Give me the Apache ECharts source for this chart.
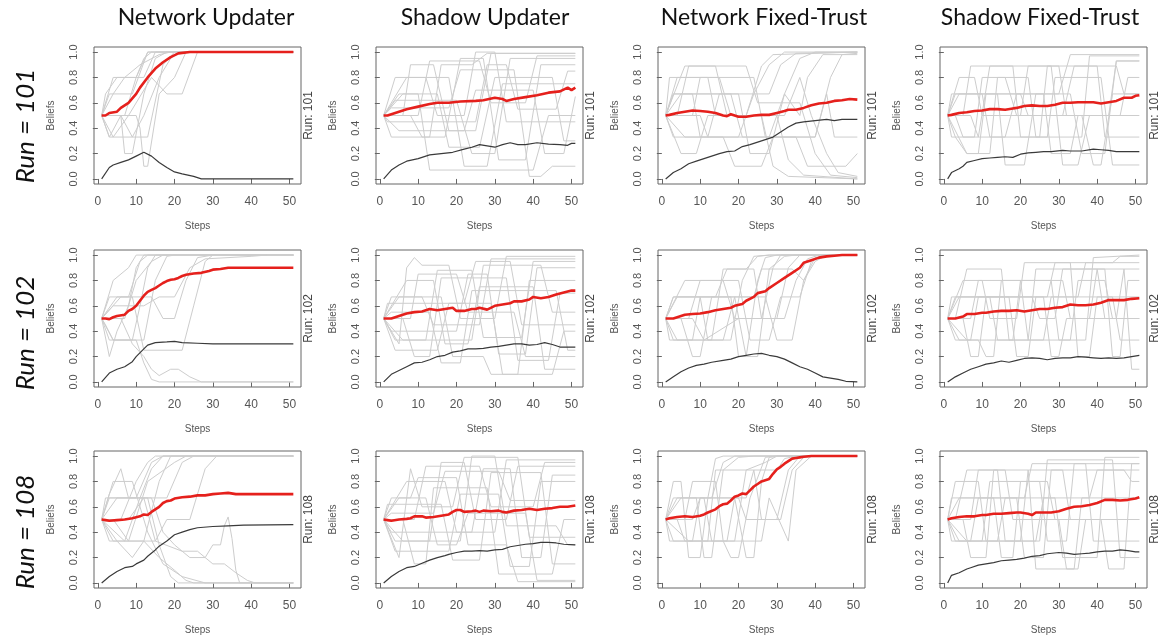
<!DOCTYPE html>
<html>
<head>
<meta charset="utf-8">
<script src="https://cdn.jsdelivr.net/npm/echarts@6/dist/echarts.min.js"></script>
<style>
html,body{margin:0;padding:0;background:#fff;}
#chart{width:1163px;height:636px;}
</style>
</head>
<body>
<div id="chart"></div>
<script>
// ---------- labels / ticks ----------
const columnTitles = ['Network Updater', 'Shadow Updater', 'Network Fixed-Trust', 'Shadow Fixed-Trust'];
const rowRuns = ['101', '102', '108'];
const xTicks = [0, 10, 20, 30, 40, 50];
const yTicks = [0, 0.2, 0.4, 0.6, 0.8, 1.0];

// ---------- Run 101 ----------
const nu101Mean = [[1,0.5],[2,0.5],[3,0.52],[5,0.53],[6,0.56],[8,0.6],[10,0.67],[11,0.72],[13,0.8],[15,0.87],[17,0.92],[19,0.96],[21,0.99],[24,1],[51,1]];
const nu101Sd = [[1,0],[3,0.09],[4,0.11],[6,0.13],[8,0.15],[10,0.18],[12,0.21],[14,0.18],[16,0.13],[18,0.09],[20,0.055],[22,0.04],[25,0.02],[27,0],[51,0]];
const nu101Agents = [
 [[1,0.5],[3,0.33],[13,0.33],[17,0.9],[20,1],[51,1]],
 [[1,0.5],[3,0.67],[9,0.67],[13,1],[51,1]],
 [[1,0.5],[4,0.8],[10,0.8],[13,1],[51,1]],
 [[1,0.5],[6,0.5],[7,0.2],[9,0.2],[12,0.67],[15,0.95],[18,1],[51,1]],
 [[1,0.5],[5,0.5],[10,0.5],[11,0.4],[12,0.1],[13,0.1],[16,0.67],[20,0.8],[23,1],[51,1]],
 [[1,0.5],[4,0.33],[8,0.5],[14,0.8],[18,0.67],[22,0.67],[26,1],[51,1]],
 [[1,0.5],[2,0.67],[5,0.8],[12,0.8],[15,1],[51,1]],
 [[1,0.5],[7,0.5],[10,0.8],[12,0.95],[14,1],[51,1]],
 [[1,0.5],[3,0.33],[6,0.5],[9,0.33],[12,0.5],[16,0.8],[19,0.95],[21,1],[51,1]],
 [[1,0.5],[4,0.67],[7,0.8],[11,0.9],[16,0.98],[19,1],[51,1]]
];
const su101Mean = [[1,0.5],[2,0.5],[4,0.52],[7,0.55],[10,0.57],[13,0.59],[15,0.6],[18,0.6],[21,0.61],[25,0.615],[27,0.62],[30,0.64],[32,0.63],[33,0.615],[35,0.63],[38,0.645],[41,0.66],[44,0.68],[47,0.69],[49,0.72],[50,0.7],[51,0.72]];
const su101Sd = [[1,0],[3,0.07],[5,0.11],[7,0.14],[10,0.16],[13,0.19],[16,0.2],[19,0.21],[22,0.235],[24,0.25],[26,0.27],[28,0.26],[30,0.25],[32,0.27],[34,0.285],[36,0.27],[38,0.27],[41,0.285],[44,0.275],[47,0.27],[49,0.265],[50,0.28],[51,0.28]];
const su101Agents = [
 [[1,0.5],[3,0.33],[13,0.33],[16,0.9],[24,0.9],[28,0.99],[51,0.99]],
 [[1,0.5],[4,0.62],[20,0.62],[24,0.2],[30,0.2],[34,0.95],[51,0.95]],
 [[1,0.5],[6,0.5],[8,0.9],[14,0.9],[18,0.38],[25,0.38],[29,0.99],[51,0.99]],
 [[1,0.5],[5,0.67],[10,0.67],[13,0.07],[40,0.07],[44,0.5],[51,0.5]],
 [[1,0.5],[4,0.8],[12,0.8],[15,0.5],[22,0.5],[25,1],[30,1],[33,0.45],[51,0.45]],
 [[1,0.5],[8,0.5],[11,0.33],[17,0.33],[21,0.95],[27,0.95],[31,0.15],[38,0.15],[42,0.9],[51,0.9]],
 [[1,0.5],[3,0.56],[18,0.56],[21,0.86],[35,0.86],[39,0.02],[42,0.02],[45,0.1],[51,0.1]],
 [[1,0.5],[6,0.67],[15,0.67],[18,0.25],[26,0.25],[30,0.8],[45,0.8],[48,0.3],[51,0.3]],
 [[1,0.5],[2,0.45],[25,0.45],[28,0.9],[33,0.9],[36,0.55],[46,0.55],[49,0.85],[51,0.85]],
 [[1,0.5],[10,0.5],[13,0.93],[26,0.93],[29,0.6],[38,0.6],[41,0.97],[51,0.97]],
 [[1,0.5],[5,0.38],[22,0.38],[25,0.7],[40,0.7],[43,0.2],[48,0.2],[51,0.65]],
 [[1,0.5],[7,0.8],[18,0.8],[22,0.1],[28,0.1],[32,0.75],[51,0.75]]
];
const nf101Mean = [[1,0.5],[2,0.505],[4,0.52],[6,0.53],[8,0.54],[10,0.535],[12,0.53],[14,0.52],[16,0.5],[17,0.495],[18,0.51],[20,0.49],[22,0.49],[24,0.5],[26,0.505],[28,0.505],[30,0.52],[32,0.535],[33,0.545],[35,0.545],[37,0.56],[39,0.58],[41,0.595],[43,0.6],[45,0.615],[47,0.62],[49,0.63],[51,0.625]];
const nf101Sd = [[1,0],[3,0.05],[5,0.08],[7,0.12],[9,0.14],[11,0.16],[13,0.18],[15,0.2],[17,0.215],[19,0.22],[21,0.255],[23,0.27],[25,0.29],[27,0.31],[29,0.33],[31,0.37],[33,0.41],[35,0.44],[37,0.45],[40,0.46],[43,0.47],[45,0.46],[47,0.47],[51,0.47]];
const nf101Agents = [
 [[1,0.5],[3,0.67],[8,0.67],[10,0.33],[20,0.33],[24,0.67],[28,0.9],[32,1],[51,1]],
 [[1,0.5],[4,0.8],[15,0.8],[18,0.5],[26,0.5],[29,0.1],[33,0.02],[51,0]],
 [[1,0.5],[6,0.89],[14,0.89],[17,0.5],[22,0.5],[26,0.89],[29,0.98],[51,1]],
 [[1,0.5],[3,0.33],[12,0.33],[15,0.67],[28,0.67],[31,0.9],[35,0.99],[51,1]],
 [[1,0.5],[5,0.2],[9,0.2],[12,0.5],[30,0.5],[33,0.15],[37,0.03],[51,0]],
 [[1,0.5],[8,0.5],[10,0.8],[24,0.8],[27,0.33],[35,0.33],[38,0.1],[48,0.1],[51,0.2]],
 [[1,0.5],[3,0.67],[20,0.67],[23,0.2],[28,0.2],[32,0.67],[36,0.95],[40,1],[51,1]],
 [[1,0.5],[10,0.5],[12,0.33],[28,0.33],[32,0.67],[36,0.5],[38,0.8],[42,0.98],[51,0.98]],
 [[1,0.5],[4,0.5],[7,0.89],[22,0.89],[25,0.6],[36,0.6],[40,0.2],[44,0.03],[51,0.01]],
 [[1,0.5],[5,0.67],[18,0.67],[21,0.33],[40,0.33],[43,0.67],[45,0.33],[51,0.33]],
 [[1,0.5],[6,0.33],[16,0.33],[19,0.1],[26,0.1],[29,0.33],[40,0.33],[44,0.8],[47,0.98],[51,0.99]],
 [[1,0.5],[2,0.8],[12,0.8],[14,0.5],[32,0.5],[36,0.8],[39,0.5],[43,0.2],[46,0.05],[51,0.02]]
];
const sf101Mean = [[1,0.5],[2,0.505],[4,0.52],[6,0.525],[8,0.535],[10,0.54],[12,0.55],[14,0.55],[16,0.545],[18,0.555],[19,0.56],[21,0.575],[23,0.58],[25,0.575],[27,0.575],[29,0.585],[31,0.6],[33,0.6],[35,0.605],[37,0.605],[39,0.605],[41,0.595],[43,0.605],[45,0.615],[47,0.64],[49,0.64],[50,0.655],[51,0.66]];
const sf101Sd = [[1,0],[2,0.05],[4,0.08],[5,0.1],[6,0.13],[8,0.145],[10,0.16],[12,0.165],[14,0.17],[16,0.175],[18,0.17],[20,0.195],[22,0.205],[24,0.21],[26,0.215],[28,0.215],[31,0.225],[33,0.22],[36,0.22],[39,0.235],[41,0.23],[43,0.225],[45,0.215],[48,0.215],[51,0.215]];
const sf101Agents = [
 [[1,0.5],[3,0.67],[10,0.67],[12,0.33],[25,0.33],[27,0.89],[45,0.89],[47,0.67],[51,0.67]],
 [[1,0.5],[3,0.33],[6,0.2],[12,0.2],[14,0.8],[22,0.8],[24,0.33],[36,0.33],[38,0.97],[51,0.97]],
 [[1,0.5],[4,0.8],[8,0.8],[10,0.5],[20,0.5],[22,0.89],[28,0.89],[31,0.11],[35,0.11],[38,0.5],[51,0.5]],
 [[1,0.5],[5,0.5],[7,0.89],[18,0.89],[20,0.33],[27,0.33],[29,0.8],[41,0.8],[44,0.11],[51,0.11]],
 [[1,0.5],[2,0.67],[14,0.67],[16,0.11],[21,0.11],[24,0.67],[33,0.67],[36,0.2],[42,0.2],[45,0.93],[51,0.93]],
 [[1,0.5],[3,0.5],[5,0.33],[16,0.33],[19,0.67],[30,0.67],[33,0.98],[51,0.98]],
 [[1,0.5],[6,0.2],[9,0.2],[11,0.67],[26,0.67],[28,0.2],[33,0.2],[35,0.5],[46,0.5],[48,0.8],[51,0.8]],
 [[1,0.5],[4,0.67],[20,0.67],[22,0.5],[31,0.5],[34,0.89],[40,0.89],[42,0.33],[51,0.33]],
 [[1,0.5],[2,0.33],[8,0.33],[10,0.8],[16,0.8],[19,0.5],[36,0.5],[39,0.11],[41,0.11],[44,0.67],[51,0.67]],
 [[1,0.5],[7,0.5],[9,0.33],[12,0.89],[30,0.89],[32,0.5],[43,0.5],[45,0.93],[51,0.93]]
];

// ---------- Run 102 ----------
const nu102Mean = [[1,0.5],[2,0.5],[3,0.495],[4,0.51],[5,0.52],[7,0.53],[8,0.56],[9,0.575],[10,0.6],[11,0.64],[12,0.68],[13,0.71],[14,0.725],[15,0.74],[16,0.76],[17,0.78],[18,0.795],[19,0.805],[20,0.81],[21,0.82],[22,0.835],[23,0.845],[25,0.855],[27,0.86],[29,0.875],[30,0.885],[32,0.89],[34,0.9],[51,0.9]];
const nu102Sd = [[1,0],[3,0.07],[5,0.1],[7,0.12],[9,0.16],[10,0.2],[12,0.26],[13,0.29],[15,0.31],[18,0.315],[20,0.32],[22,0.31],[26,0.305],[30,0.3],[51,0.3]];
const nu102Agents = [
 [[1,0.5],[3,0.67],[8,0.67],[11,0.95],[13,1],[51,1]],
 [[1,0.5],[3,0.2],[5,0.4],[8,0.6],[10,0.9],[12,1],[51,1]],
 [[1,0.5],[4,0.33],[10,0.33],[12,0.15],[14,0.02],[16,0],[51,0]],
 [[1,0.5],[6,0.5],[9,0.3],[12,0.2],[14,0.1],[16,0.05],[19,0.1],[21,0.1],[24,0.04],[27,0],[51,0]],
 [[1,0.5],[5,0.67],[9,0.67],[12,0.25],[22,0.25],[25,0.6],[28,0.95],[30,1],[51,1]],
 [[1,0.5],[4,0.8],[8,0.9],[10,1],[51,1]],
 [[1,0.5],[6,0.67],[14,0.67],[17,0.5],[20,0.5],[23,0.8],[26,0.98],[30,1],[51,1]],
 [[1,0.5],[3,0.33],[12,0.33],[15,0.8],[18,0.99],[20,1],[51,1]],
 [[1,0.5],[7,0.5],[10,0.8],[14,0.95],[17,1],[51,1]],
 [[1,0.5],[4,0.6],[12,0.6],[16,0.67],[20,0.67],[24,0.9],[28,0.97],[40,0.99],[44,1],[51,1]],
 [[1,0.5],[2,0.45],[4,0.33],[9,0.33],[11,0.6],[13,0.9],[15,1],[51,1]]
];
const su102Mean = [[1,0.5],[3,0.5],[5,0.52],[7,0.54],[9,0.55],[11,0.555],[13,0.575],[15,0.565],[17,0.575],[19,0.585],[20,0.56],[22,0.56],[24,0.575],[25,0.575],[26,0.585],[28,0.57],[30,0.6],[32,0.61],[34,0.62],[35,0.635],[37,0.635],[39,0.65],[40,0.67],[42,0.66],[44,0.67],[46,0.69],[48,0.705],[50,0.72],[51,0.72]];
const su102Sd = [[1,0],[3,0.06],[5,0.09],[7,0.12],[9,0.15],[11,0.155],[13,0.175],[15,0.2],[17,0.21],[19,0.235],[21,0.245],[23,0.26],[25,0.26],[27,0.265],[29,0.275],[31,0.28],[33,0.29],[35,0.3],[37,0.3],[39,0.29],[41,0.295],[43,0.31],[45,0.295],[47,0.275],[49,0.275],[51,0.275]];
const su102Agents = [
 [[1,0.5],[5,0.3],[7,0.9],[9,0.98],[11,0.92],[18,0.92],[21,0.5],[30,0.5],[33,0.99],[51,0.99]],
 [[1,0.5],[3,0.67],[16,0.67],[19,0.2],[27,0.2],[29,0.06],[45,0.06],[48,0.4],[51,0.4]],
 [[1,0.5],[4,0.33],[12,0.33],[15,0.88],[24,0.88],[27,0.35],[37,0.35],[40,0.95],[51,0.95]],
 [[1,0.5],[6,0.5],[9,0.2],[13,0.2],[16,0.82],[33,0.82],[36,0.17],[44,0.17],[47,0.7],[51,0.7]],
 [[1,0.5],[2,0.62],[22,0.62],[25,0.95],[34,0.95],[37,0.45],[51,0.45]],
 [[1,0.5],[7,0.8],[14,0.8],[17,0.3],[23,0.3],[26,0.75],[40,0.75],[43,0.1],[51,0.1]],
 [[1,0.5],[3,0.4],[20,0.4],[23,0.85],[28,0.85],[31,0.22],[38,0.22],[41,0.9],[51,0.9]],
 [[1,0.5],[5,0.67],[11,0.67],[14,0.45],[26,0.45],[29,0.97],[51,0.97]],
 [[1,0.5],[8,0.5],[10,0.85],[20,0.85],[23,0.55],[35,0.55],[38,0.2],[51,0.2]],
 [[1,0.5],[4,0.25],[15,0.25],[18,0.62],[29,0.62],[32,0.06],[36,0.06],[39,0.8],[51,0.8]],
 [[1,0.5],[6,0.33],[24,0.33],[27,0.92],[42,0.92],[45,0.55],[51,0.55]],
 [[1,0.5],[3,0.55],[13,0.55],[16,0.15],[21,0.15],[24,0.72],[46,0.72],[49,0.25],[51,0.25]]
];
const nf102Mean = [[1,0.5],[3,0.5],[4,0.51],[6,0.53],[8,0.535],[10,0.54],[12,0.55],[14,0.565],[16,0.575],[18,0.585],[19,0.6],[21,0.615],[22,0.64],[24,0.67],[25,0.7],[27,0.715],[28,0.74],[30,0.78],[32,0.82],[34,0.86],[36,0.9],[37,0.94],[39,0.96],[41,0.98],[43,0.99],[45,0.995],[47,1],[51,1]];
const nf102Sd = [[1,0],[3,0.04],[5,0.08],[7,0.11],[9,0.13],[11,0.14],[13,0.155],[16,0.17],[18,0.18],[20,0.2],[22,0.21],[24,0.22],[26,0.225],[28,0.21],[30,0.2],[32,0.18],[34,0.15],[36,0.12],[38,0.1],[40,0.07],[42,0.04],[44,0.03],[46,0.02],[48,0.005],[51,0]];
const nf102Agents = [
 [[1,0.5],[3,0.67],[10,0.67],[12,0.33],[18,0.33],[21,0.8],[24,0.99],[28,1],[51,1]],
 [[1,0.5],[4,0.33],[8,0.33],[10,0.67],[18,0.67],[20,0.2],[22,0.2],[25,0.8],[27,0.98],[30,1],[51,1]],
 [[1,0.5],[6,0.8],[16,0.8],[19,0.5],[26,0.5],[29,0.9],[31,1],[51,1]],
 [[1,0.5],[3,0.33],[13,0.33],[16,0.89],[24,0.89],[26,0.5],[30,0.5],[33,0.9],[36,1],[51,1]],
 [[1,0.5],[5,0.5],[8,0.2],[10,0.2],[13,0.67],[27,0.67],[30,0.33],[34,0.33],[37,0.8],[40,0.98],[43,1],[51,1]],
 [[1,0.5],[3,0.67],[24,0.67],[26,0.89],[34,0.89],[37,0.8],[40,0.95],[43,1],[51,1]],
 [[1,0.5],[7,0.5],[10,0.8],[20,0.8],[23,0.33],[28,0.33],[31,0.67],[36,0.67],[39,0.95],[42,1],[51,1]],
 [[1,0.5],[2,0.33],[16,0.33],[19,0.67],[22,0.2],[25,0.2],[28,0.89],[32,0.99],[35,1],[51,1]],
 [[1,0.5],[4,0.67],[14,0.67],[17,0.89],[22,0.89],[25,0.99],[28,1],[51,1]],
 [[1,0.5],[8,0.5],[11,0.33],[20,0.5],[32,0.5],[35,0.8],[38,0.97],[41,1],[51,1]]
];
const sf102Mean = [[1,0.5],[3,0.5],[5,0.515],[6,0.535],[8,0.535],[10,0.545],[11,0.545],[13,0.555],[15,0.56],[17,0.56],[19,0.565],[21,0.555],[23,0.565],[25,0.575],[27,0.575],[29,0.585],[31,0.59],[33,0.61],[35,0.605],[37,0.605],[39,0.61],[41,0.625],[43,0.645],[45,0.645],[47,0.645],[49,0.655],[51,0.66]];
const sf102Sd = [[1,0],[3,0.04],[5,0.07],[7,0.1],[9,0.12],[11,0.14],[13,0.15],[15,0.165],[17,0.155],[19,0.17],[21,0.185],[23,0.19],[25,0.185],[27,0.175],[29,0.185],[31,0.19],[33,0.19],[35,0.2],[37,0.195],[39,0.19],[41,0.185],[43,0.19],[45,0.185],[47,0.19],[49,0.2],[51,0.21]];
const sf102Agents = [
 [[1,0.5],[3,0.67],[12,0.67],[14,0.33],[22,0.33],[24,0.89],[40,0.89],[42,0.5],[51,0.5]],
 [[1,0.5],[4,0.33],[9,0.33],[11,0.2],[13,0.2],[15,0.8],[28,0.8],[30,0.33],[37,0.33],[39,0.98],[51,1]],
 [[1,0.5],[5,0.8],[10,0.8],[12,0.5],[19,0.5],[21,0.94],[33,0.94],[35,0.2],[38,0.2],[40,0.67],[51,0.67]],
 [[1,0.5],[3,0.5],[6,0.89],[15,0.89],[17,0.33],[26,0.33],[28,0.67],[44,0.67],[46,0.33],[51,0.33]],
 [[1,0.5],[2,0.67],[17,0.67],[19,0.2],[22,0.2],[24,0.67],[35,0.67],[37,0.94],[51,0.94]],
 [[1,0.5],[6,0.33],[18,0.33],[20,0.8],[31,0.8],[33,0.5],[45,0.5],[47,0.89],[49,0.1],[51,0.1]],
 [[1,0.5],[4,0.67],[23,0.67],[25,0.5],[29,0.5],[31,0.89],[42,0.89],[44,0.2],[46,0.2],[48,0.8],[51,0.8]],
 [[1,0.5],[7,0.5],[9,0.8],[20,0.8],[22,0.33],[33,0.33],[35,0.8],[42,0.8],[44,0.5],[51,0.5]],
 [[1,0.5],[3,0.33],[7,0.33],[9,0.67],[26,0.67],[28,0.2],[30,0.2],[32,0.5],[38,0.5],[40,0.89],[51,0.89]],
 [[1,0.5],[5,0.5],[7,0.2],[9,0.2],[11,0.67],[27,0.67],[29,0.94],[44,0.94],[46,0.99],[51,0.99]]
];

// ---------- Run 108 ----------
const nu108Mean = [[1,0.5],[2,0.495],[3,0.49],[5,0.495],[7,0.5],[9,0.51],[11,0.525],[12,0.54],[13,0.535],[14,0.56],[15,0.58],[16,0.6],[17,0.63],[18,0.645],[19,0.65],[20,0.665],[22,0.675],[24,0.68],[26,0.69],[28,0.69],[30,0.7],[32,0.705],[34,0.71],[36,0.7],[51,0.7]];
const nu108Sd = [[1,0],[3,0.05],[5,0.09],[7,0.12],[9,0.13],[10,0.15],[12,0.18],[13,0.21],[15,0.26],[16,0.29],[18,0.33],[20,0.38],[22,0.4],[24,0.42],[26,0.435],[30,0.445],[34,0.45],[38,0.455],[51,0.46]];
const nu108Agents = [
 [[1,0.5],[3,0.67],[10,0.67],[14,0.95],[17,1],[51,1]],
 [[1,0.5],[4,0.33],[12,0.33],[16,0.8],[19,1],[51,1]],
 [[1,0.5],[3,0.7],[6,0.9],[8,0.67],[13,0.67],[16,0.3],[19,0.05],[21,0],[51,0]],
 [[1,0.5],[5,0.33],[9,0.2],[12,0.33],[16,0.2],[20,0.1],[23,0.02],[25,0],[51,0]],
 [[1,0.5],[6,0.5],[10,0.8],[13,0.95],[15,1],[51,1]],
 [[1,0.5],[2,0.67],[12,0.67],[15,0.33],[22,0.25],[26,0.25],[28,0.2],[30,0.3],[32,0.3],[33,0.45],[34,0.52],[35,0.35],[36,0.1],[37,0],[51,0]],
 [[1,0.5],[4,0.8],[9,0.8],[13,0.4],[17,0.15],[22,0.05],[28,0],[51,0]],
 [[1,0.5],[8,0.5],[12,0.67],[18,0.67],[22,0.95],[25,1],[51,1]],
 [[1,0.5],[3,0.33],[15,0.33],[18,0.5],[24,0.5],[28,0.9],[31,1],[51,1]],
 [[1,0.5],[5,0.67],[14,0.67],[17,0.4],[20,0.3],[24,0.2],[28,0.2],[30,0.15],[33,0.15],[36,0.08],[39,0.02],[41,0],[51,0]],
 [[1,0.5],[7,0.33],[11,0.67],[14,0.9],[17,1],[51,1]],
 [[1,0.5],[4,0.5],[8,0.33],[13,0.8],[20,0.95],[23,1],[51,1]]
];
const su108Mean = [[1,0.5],[2,0.495],[3,0.49],[5,0.5],[7,0.505],[8,0.51],[9,0.525],[11,0.525],[12,0.515],[14,0.52],[16,0.53],[18,0.54],[19,0.56],[20,0.575],[21,0.575],[22,0.56],[24,0.565],[25,0.57],[26,0.56],[27,0.57],[29,0.565],[31,0.57],[32,0.56],[33,0.555],[35,0.57],[37,0.575],[39,0.585],[41,0.575],[43,0.585],[45,0.59],[47,0.6],[49,0.6],[51,0.61]];
const su108Sd = [[1,0],[3,0.05],[5,0.09],[7,0.12],[9,0.13],[11,0.155],[13,0.18],[15,0.2],[17,0.215],[18,0.225],[20,0.24],[22,0.25],[24,0.25],[26,0.255],[28,0.25],[30,0.26],[32,0.265],[34,0.285],[36,0.295],[38,0.305],[40,0.31],[42,0.32],[44,0.32],[46,0.315],[48,0.305],[51,0.3]];
const su108Agents = [
 [[1,0.5],[3,0.67],[8,0.67],[10,0.83],[20,0.83],[23,0.3],[33,0.3],[36,0.01],[51,0.01]],
 [[1,0.5],[4,0.33],[13,0.33],[16,0.95],[22,0.95],[25,0.5],[33,0.5],[36,0.92],[51,0.92]],
 [[1,0.5],[6,0.5],[9,0.15],[12,0.15],[14,0.75],[28,0.75],[31,0.07],[45,0.07],[48,0.5],[51,0.5]],
 [[1,0.5],[5,0.2],[8,0.9],[11,0.6],[19,0.6],[22,0.99],[36,0.99],[39,0.36],[51,0.36]],
 [[1,0.5],[2,0.62],[16,0.62],[19,0.18],[26,0.18],[29,0.87],[42,0.87],[45,0.15],[51,0.15]],
 [[1,0.5],[7,0.8],[17,0.8],[20,0.4],[30,0.4],[33,0.97],[51,0.97]],
 [[1,0.5],[3,0.4],[24,0.4],[27,0.9],[34,0.9],[37,0.2],[42,0.2],[45,0.85],[51,0.85]],
 [[1,0.5],[5,0.67],[12,0.67],[15,0.3],[20,0.3],[23,0.55],[38,0.55],[41,0.02],[51,0.02]],
 [[1,0.5],[9,0.5],[12,0.92],[26,0.92],[29,0.6],[40,0.6],[43,0.95],[51,0.95]],
 [[1,0.5],[4,0.25],[18,0.25],[21,0.7],[31,0.7],[34,0.13],[39,0.13],[42,0.8],[51,0.8]],
 [[1,0.5],[6,0.33],[21,0.33],[24,1],[30,1],[33,0.45],[46,0.45],[49,0.3],[51,0.3]],
 [[1,0.5],[3,0.55],[14,0.55],[17,0.88],[31,0.88],[34,0.65],[51,0.65]]
];
const nf108Mean = [[1,0.5],[2,0.51],[4,0.52],[6,0.525],[8,0.52],[10,0.53],[11,0.54],[12,0.555],[14,0.58],[15,0.605],[16,0.62],[17,0.625],[18,0.65],[19,0.68],[20,0.69],[21,0.705],[22,0.7],[23,0.73],[24,0.76],[25,0.78],[26,0.8],[27,0.81],[28,0.82],[29,0.86],[30,0.895],[31,0.915],[32,0.94],[33,0.96],[34,0.98],[35,0.985],[36,0.99],[37,0.995],[39,1],[51,1]];
const nf108Sd = [];
const nf108Agents = [
 [[1,0.5],[3,0.8],[5,0.8],[7,0.2],[10,0.2],[12,0.67],[14,0.98],[16,1],[51,1]],
 [[1,0.5],[2,0.33],[8,0.33],[10,0.67],[13,0.67],[16,0.95],[19,1],[51,1]],
 [[1,0.5],[4,0.67],[11,0.67],[13,0.33],[19,0.33],[22,0.89],[27,0.95],[30,1],[51,1]],
 [[1,0.5],[6,0.5],[8,0.8],[14,0.8],[16,0.33],[18,0.2],[20,0.2],[23,0.67],[27,0.99],[30,1],[51,1]],
 [[1,0.5],[3,0.33],[17,0.33],[19,0.67],[22,0.2],[24,0.2],[26,0.8],[28,0.99],[31,1],[51,1]],
 [[1,0.5],[5,0.67],[20,0.67],[22,0.5],[30,0.5],[33,0.89],[36,1],[51,1]],
 [[1,0.5],[7,0.33],[12,0.33],[14,0.89],[24,0.89],[26,0.5],[31,0.5],[34,0.89],[37,0.99],[40,1],[51,1]],
 [[1,0.5],[4,0.5],[6,0.33],[26,0.33],[28,0.67],[33,0.33],[35,0.89],[39,1],[51,1]],
 [[1,0.5],[8,0.5],[10,0.67],[22,0.67],[24,0.89],[30,0.89],[32,0.98],[35,1],[51,1]],
 [[1,0.5],[3,0.67],[9,0.67],[11,0.2],[13,0.2],[16,0.89],[20,0.99],[24,1],[51,1]]
];
const sf108Mean = [[1,0.5],[2,0.51],[4,0.52],[6,0.525],[8,0.525],[10,0.535],[11,0.535],[13,0.545],[15,0.545],[17,0.55],[19,0.555],[20,0.555],[22,0.545],[23,0.535],[24,0.555],[26,0.555],[28,0.555],[30,0.565],[32,0.585],[34,0.6],[36,0.605],[38,0.615],[40,0.63],[42,0.655],[44,0.655],[46,0.65],[48,0.655],[50,0.665],[51,0.675]];
const sf108Sd = [[1,0],[2,0.06],[4,0.08],[6,0.11],[7,0.12],[9,0.14],[11,0.15],[13,0.16],[15,0.175],[17,0.18],[19,0.185],[21,0.195],[23,0.21],[25,0.215],[27,0.23],[30,0.24],[32,0.235],[34,0.225],[36,0.23],[38,0.235],[40,0.245],[42,0.25],[44,0.25],[46,0.26],[48,0.255],[50,0.245],[51,0.245]];
const sf108Agents = [
 [[1,0.5],[3,0.8],[9,0.8],[11,0.33],[20,0.33],[22,0.89],[31,0.89],[33,0.5],[51,0.5]],
 [[1,0.5],[2,0.33],[7,0.33],[9,0.67],[19,0.67],[21,0.2],[26,0.2],[28,0.89],[47,0.89],[49,0.8],[51,0.8]],
 [[1,0.5],[4,0.67],[13,0.67],[15,0.2],[18,0.2],[20,0.8],[25,0.8],[27,0.33],[32,0.33],[34,0.94],[51,0.94]],
 [[1,0.5],[5,0.5],[7,0.2],[11,0.2],[13,0.89],[22,0.89],[24,0.11],[35,0.11],[37,0.5],[51,0.5]],
 [[1,0.5],[3,0.5],[6,0.89],[16,0.89],[18,0.5],[30,0.5],[32,0.11],[34,0.11],[36,0.67],[51,0.67]],
 [[1,0.5],[6,0.33],[14,0.33],[16,0.67],[29,0.67],[31,0.2],[40,0.2],[42,0.99],[51,0.99]],
 [[1,0.5],[2,0.67],[21,0.67],[23,0.94],[37,0.94],[39,0.33],[51,0.33]],
 [[1,0.5],[4,0.33],[10,0.33],[12,0.8],[27,0.8],[29,0.5],[41,0.5],[43,0.11],[47,0.11],[49,0.94],[51,0.94]],
 [[1,0.5],[7,0.5],[9,0.89],[14,0.89],[16,0.33],[24,0.33],[26,0.67],[38,0.67],[40,0.89],[51,0.89]],
 [[1,0.5],[3,0.33],[25,0.33],[27,0.97],[44,0.97],[46,0.2],[51,0.2]]
];

// panel grid (row-major: run 101, 102, 108; columns as titles)
const panelData = [
  [nu101Mean, nu101Sd, nu101Agents], [su101Mean, su101Sd, su101Agents], [nf101Mean, nf101Sd, nf101Agents], [sf101Mean, sf101Sd, sf101Agents],
  [nu102Mean, nu102Sd, nu102Agents], [su102Mean, su102Sd, su102Agents], [nf102Mean, nf102Sd, nf102Agents], [sf102Mean, sf102Sd, sf102Agents],
  [nu108Mean, nu108Sd, nu108Agents], [su108Mean, su108Sd, su108Agents], [nf108Mean, nf108Sd, nf108Agents], [sf108Mean, sf108Sd, sf108Agents]
];

// ---------- layout ----------
const boxLeft0 = 94, colStep = 282, boxW = 207, boxH = 137;
const rowTops = [47, 250, 451];
const titleCenters = [206, 485, 764, 1040];
const rowLabelCenters = [126, 333, 532];

const grids = [], xAxes = [], yAxes = [], series = [], graphics = [];
const axisTextColor = '#555';
const frameColor = '#666';

for (let r = 0; r < 3; r++) {
  for (let c = 0; c < 4; c++) {
    const i = r * 4 + c;
    const left = boxLeft0 + colStep * c;
    const top = rowTops[r];
    grids.push({left: left, top: top, width: boxW, height: boxH, show: true,
      borderColor: frameColor, borderWidth: 1, backgroundColor: 'transparent', containLabel: false, outerBoundsMode: 'none'});
    xAxes.push({
      type: 'value', gridIndex: i, min: -1, max: 53,
      axisLine: {show: false},
      axisTick: {show: true, length: 5, customValues: xTicks, lineStyle: {color: frameColor}},
      axisLabel: {customValues: xTicks, margin: 12, color: axisTextColor, fontSize: 12, fontFamily: 'Liberation Sans'},
      splitLine: {show: false},
      name: 'Steps', nameLocation: 'middle', nameGap: 37,
      nameTextStyle: {color: axisTextColor, fontSize: 10, fontFamily: 'Liberation Sans'}
    });
    yAxes.push({
      type: 'value', gridIndex: i, min: -0.04, max: 1.04,
      axisLine: {show: false},
      axisTick: {show: true, length: 5, customValues: yTicks, lineStyle: {color: frameColor}},
      axisLabel: {customValues: yTicks, rotate: 90, margin: 15, color: axisTextColor, fontSize: 11,
        fontFamily: 'Liberation Sans', formatter: v => v.toFixed(1)},
      splitLine: {show: false},
      name: 'Beliefs', nameLocation: 'middle', nameGap: 38, nameRotate: 90,
      nameTextStyle: {color: axisTextColor, fontSize: 10, fontFamily: 'Liberation Sans'}
    });
    const [meanArr, sdArr, agents] = panelData[i];
    agents.forEach(a => series.push({
      type: 'line', xAxisIndex: i, yAxisIndex: i, data: a, showSymbol: false, silent: true,
      lineStyle: {color: '#cdcdcd', width: 1}, z: 1
    }));
    if (sdArr.length) series.push({
      type: 'line', xAxisIndex: i, yAxisIndex: i, data: sdArr, showSymbol: false, silent: true,
      lineStyle: {color: '#3a3a3a', width: 1.2}, z: 2
    });
    series.push({
      type: 'line', xAxisIndex: i, yAxisIndex: i, data: meanArr, showSymbol: false, silent: true,
      lineStyle: {color: '#e5201c', width: 2.6}, z: 3
    });
    graphics.push({
      type: 'text', x: left + boxW + 8, y: top + boxH / 2, rotation: Math.PI / 2,
      style: {text: 'Run: ' + rowRuns[r], fill: '#444', font: '12px "Liberation Sans"', align: 'center', verticalAlign: 'middle'}
    });
  }
}
columnTitles.forEach((t, c) => graphics.push({
  type: 'text', x: titleCenters[c], y: 18,
  style: {text: t, fill: '#111', font: '23px Lato', align: 'center', verticalAlign: 'middle'}
}));
rowRuns.forEach((run, r) => graphics.push({
  type: 'text', x: 26, y: rowLabelCenters[r], rotation: Math.PI / 2,
  style: {text: 'Run = ' + run, fill: '#111', font: 'italic 26px Lato', align: 'center', verticalAlign: 'middle'}
}));

const chart = echarts.init(document.getElementById('chart'), null, {renderer: 'canvas'});
chart.setOption({
  animation: false,
  backgroundColor: '#fff',
  grid: grids, xAxis: xAxes, yAxis: yAxes, series: series,
  graphic: graphics
});
</script>
</body>
</html>
